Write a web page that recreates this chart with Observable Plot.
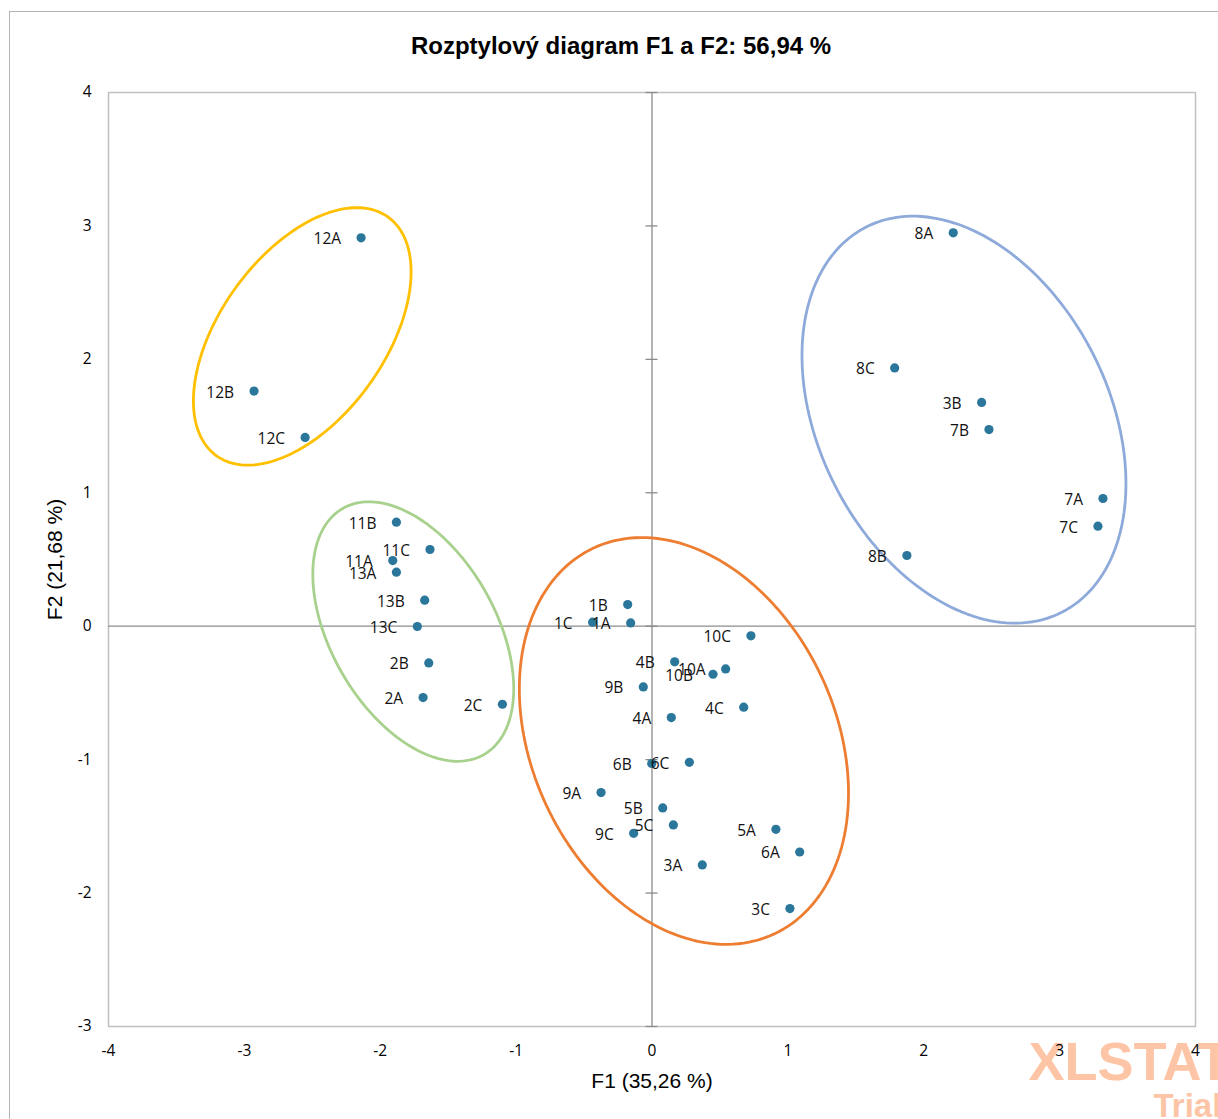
<!DOCTYPE html>
<html>
<head>
<meta charset="utf-8">
<script src="https://cdn.jsdelivr.net/npm/d3@7"></script>
<script src="https://cdn.jsdelivr.net/npm/@observablehq/plot@0.6"></script>
<style>
  html, body { margin: 0; padding: 0; background: white; overflow: hidden; }
  #wrap { position: relative; width: 1218px; height: 1119px; overflow: hidden; }
  #outer { position: absolute; left: 9px; top: 11px; width: 1400px; height: 1400px;
           border-left: 1.5px solid #b4b4b4; border-top: 1.5px solid #b4b4b4; pointer-events: none; }
</style>
</head>
<body>
<div id="wrap"><div id="outer"></div></div>
<script>
// ---- data ----
const labels = ["12A","12B","12C","11B","11C","11A","13A","13B","13C","2B","2A","2C",
  "1B","1C","1A","10C","4B","10A","10B","9B","4C","4A",
  "6B","6C","9A","5B","5C","9C","5A","6A","3A","3C",
  "8A","8C","3B","7B","7A","7C","8B"];
const f1 = [-2.141,-2.929,-2.553,-1.881,-1.634,-1.908,-1.881,-1.673,-1.727,-1.643,-1.685,-1.101,
  -0.179,-0.437,-0.157,0.728,0.167,0.542,0.449,-0.064,0.675,0.142,
  -0.002,0.275,-0.375,0.079,0.157,-0.135,0.912,1.087,0.370,1.015,
  2.217,1.786,2.426,2.480,3.319,3.282,1.876];
const f2 = [2.911,1.762,1.415,0.780,0.575,0.492,0.405,0.195,-0.002,-0.275,-0.535,-0.585,
  0.162,0.030,0.025,-0.072,-0.267,-0.320,-0.360,-0.455,-0.607,-0.685,
  -1.029,-1.020,-1.247,-1.362,-1.489,-1.552,-1.522,-1.692,-1.789,-2.116,
  2.948,1.936,1.677,1.474,0.957,0.750,0.530];

const xTicks = [-4,-3,-2,-1,0,1,2,3,4];
const yTicks = [-3,-2,-1,0,1,2,3,4];

const titleText = "Rozptylový diagram F1 a F2: 56,94 %";
const xTitle = "F1 (35,26 %)";
const yTitle = "F2 (21,68 %)";

// group ellipses (center, semi-axes in F1 units, tilt in degrees)
const ellipseNames = ["yellow","green","orange","blue"];
const ellipseCx = [-2.574, -1.757, 0.235, 2.296];
const ellipseCy = [2.172, -0.040, -0.860, 1.548];
const ellipseA = [1.082, 1.044, 1.568, 1.590];
const ellipseB = [0.607, 0.607, 1.118, 1.066];
const ellipseAngle = [54.3, -60.2, -64.9, -63.1];
const ellipseColors = ["#ffc000", "#a9d18e", "#ed7d31", "#8eaadb"];

// ---- build tables ----
const points = labels.map((l, i) => ({label: l, f1: f1[i], f2: f2[i]}));
const aspect = (1087 / 8) / (934 / 7); // px per unit x / px per unit y
const ellipsePts = [];
ellipseNames.forEach((name, k) => {
  const th = ellipseAngle[k] * Math.PI / 180;
  for (let j = 0; j < 180; j++) {
    const t = j / 180 * 2 * Math.PI;
    const dx = ellipseA[k] * Math.cos(t) * Math.cos(th) - ellipseB[k] * Math.sin(t) * Math.sin(th);
    const dy = (ellipseA[k] * Math.cos(t) * Math.sin(th) + ellipseB[k] * Math.sin(t) * Math.cos(th)) * aspect;
    ellipsePts.push({name, x: ellipseCx[k] + dx, y: ellipseCy[k] + dy});
  }
});

const labelFont = "'Open Sans', 'Noto Sans', sans-serif";
const arial = "'Liberation Sans', Arial, sans-serif";

const chart = Plot.plot({
  width: 1218,
  height: 1119,
  marginLeft: 108,
  marginRight: 23,
  marginTop: 92,
  marginBottom: 93,
  x: {domain: [-4, 4]},
  y: {domain: [-3, 4]},
  style: {fontFamily: labelFont, fontSize: "15.5px", background: "transparent", color: "black", overflow: "visible"},
  marks: [
    // watermark
    Plot.text(["XLSTAT"], {frameAnchor: "bottom-right", dx: -167, dy: 36, textAnchor: "start", lineAnchor: "middle",
      fontFamily: arial, fontWeight: "bold", fontSize: 54, fill: "#fdc5a5"}),
    Plot.text(["Trial"], {frameAnchor: "bottom-right", dx: -42, dy: 80, textAnchor: "start", lineAnchor: "middle",
      fontFamily: arial, fontWeight: "bold", fontSize: 33, fill: "#fdc5a5"}),
    Plot.frame({stroke: "#c0c0c0", strokeWidth: 1.5}),
    Plot.ruleX([0], {stroke: "#8c8c8c", strokeWidth: 1.3}),
    Plot.ruleY([0], {stroke: "#8c8c8c", strokeWidth: 1.3}),
    Plot.ruleY(yTicks, {x1: 0, x2: 0, insetLeft: -6, insetRight: -6, stroke: "#8c8c8c", strokeWidth: 1.3}),
    ...ellipseNames.map((name, k) => Plot.line(ellipsePts.filter(d => d.name === name),
      {x: "x", y: "y", curve: "linear-closed", stroke: ellipseColors[k], strokeWidth: 2.8})),
    Plot.dot(points, {x: "f1", y: "f2", r: 4.6, fill: "#2b769b", stroke: "none"}),
    Plot.text(points, {x: "f1", y: "f2", text: "label", textAnchor: "end", dx: -20, dy: 1.5,
      fill: "#111", fontSize: 15.5}),
    Plot.axisX(xTicks, {tickSize: 0, tickPadding: 18, label: null, tickFormat: d => String(d), fontSize: 15.5}),
    Plot.axisY(yTicks, {tickSize: 0, tickPadding: 17, label: null, tickFormat: d => String(d), fontSize: 15.5}),
    Plot.text([xTitle], {frameAnchor: "bottom", dy: 55, lineAnchor: "middle", textAnchor: "middle",
      fontFamily: arial, fontSize: 21, fill: "black"}),
    Plot.text([yTitle], {frameAnchor: "left", dx: -53, rotate: -90, lineAnchor: "middle", textAnchor: "middle",
      fontFamily: arial, fontSize: 21, fill: "black"}),
    Plot.text([titleText], {frameAnchor: "top", dx: -31, dy: -46, lineAnchor: "middle", textAnchor: "middle",
      fontFamily: arial, fontWeight: "bold", fontSize: 24, fill: "black"})
  ]
});
chart.style.position = "absolute";
chart.style.left = "0px";
chart.style.top = "0px";
document.getElementById("wrap").appendChild(chart);
</script>
</body>
</html>
